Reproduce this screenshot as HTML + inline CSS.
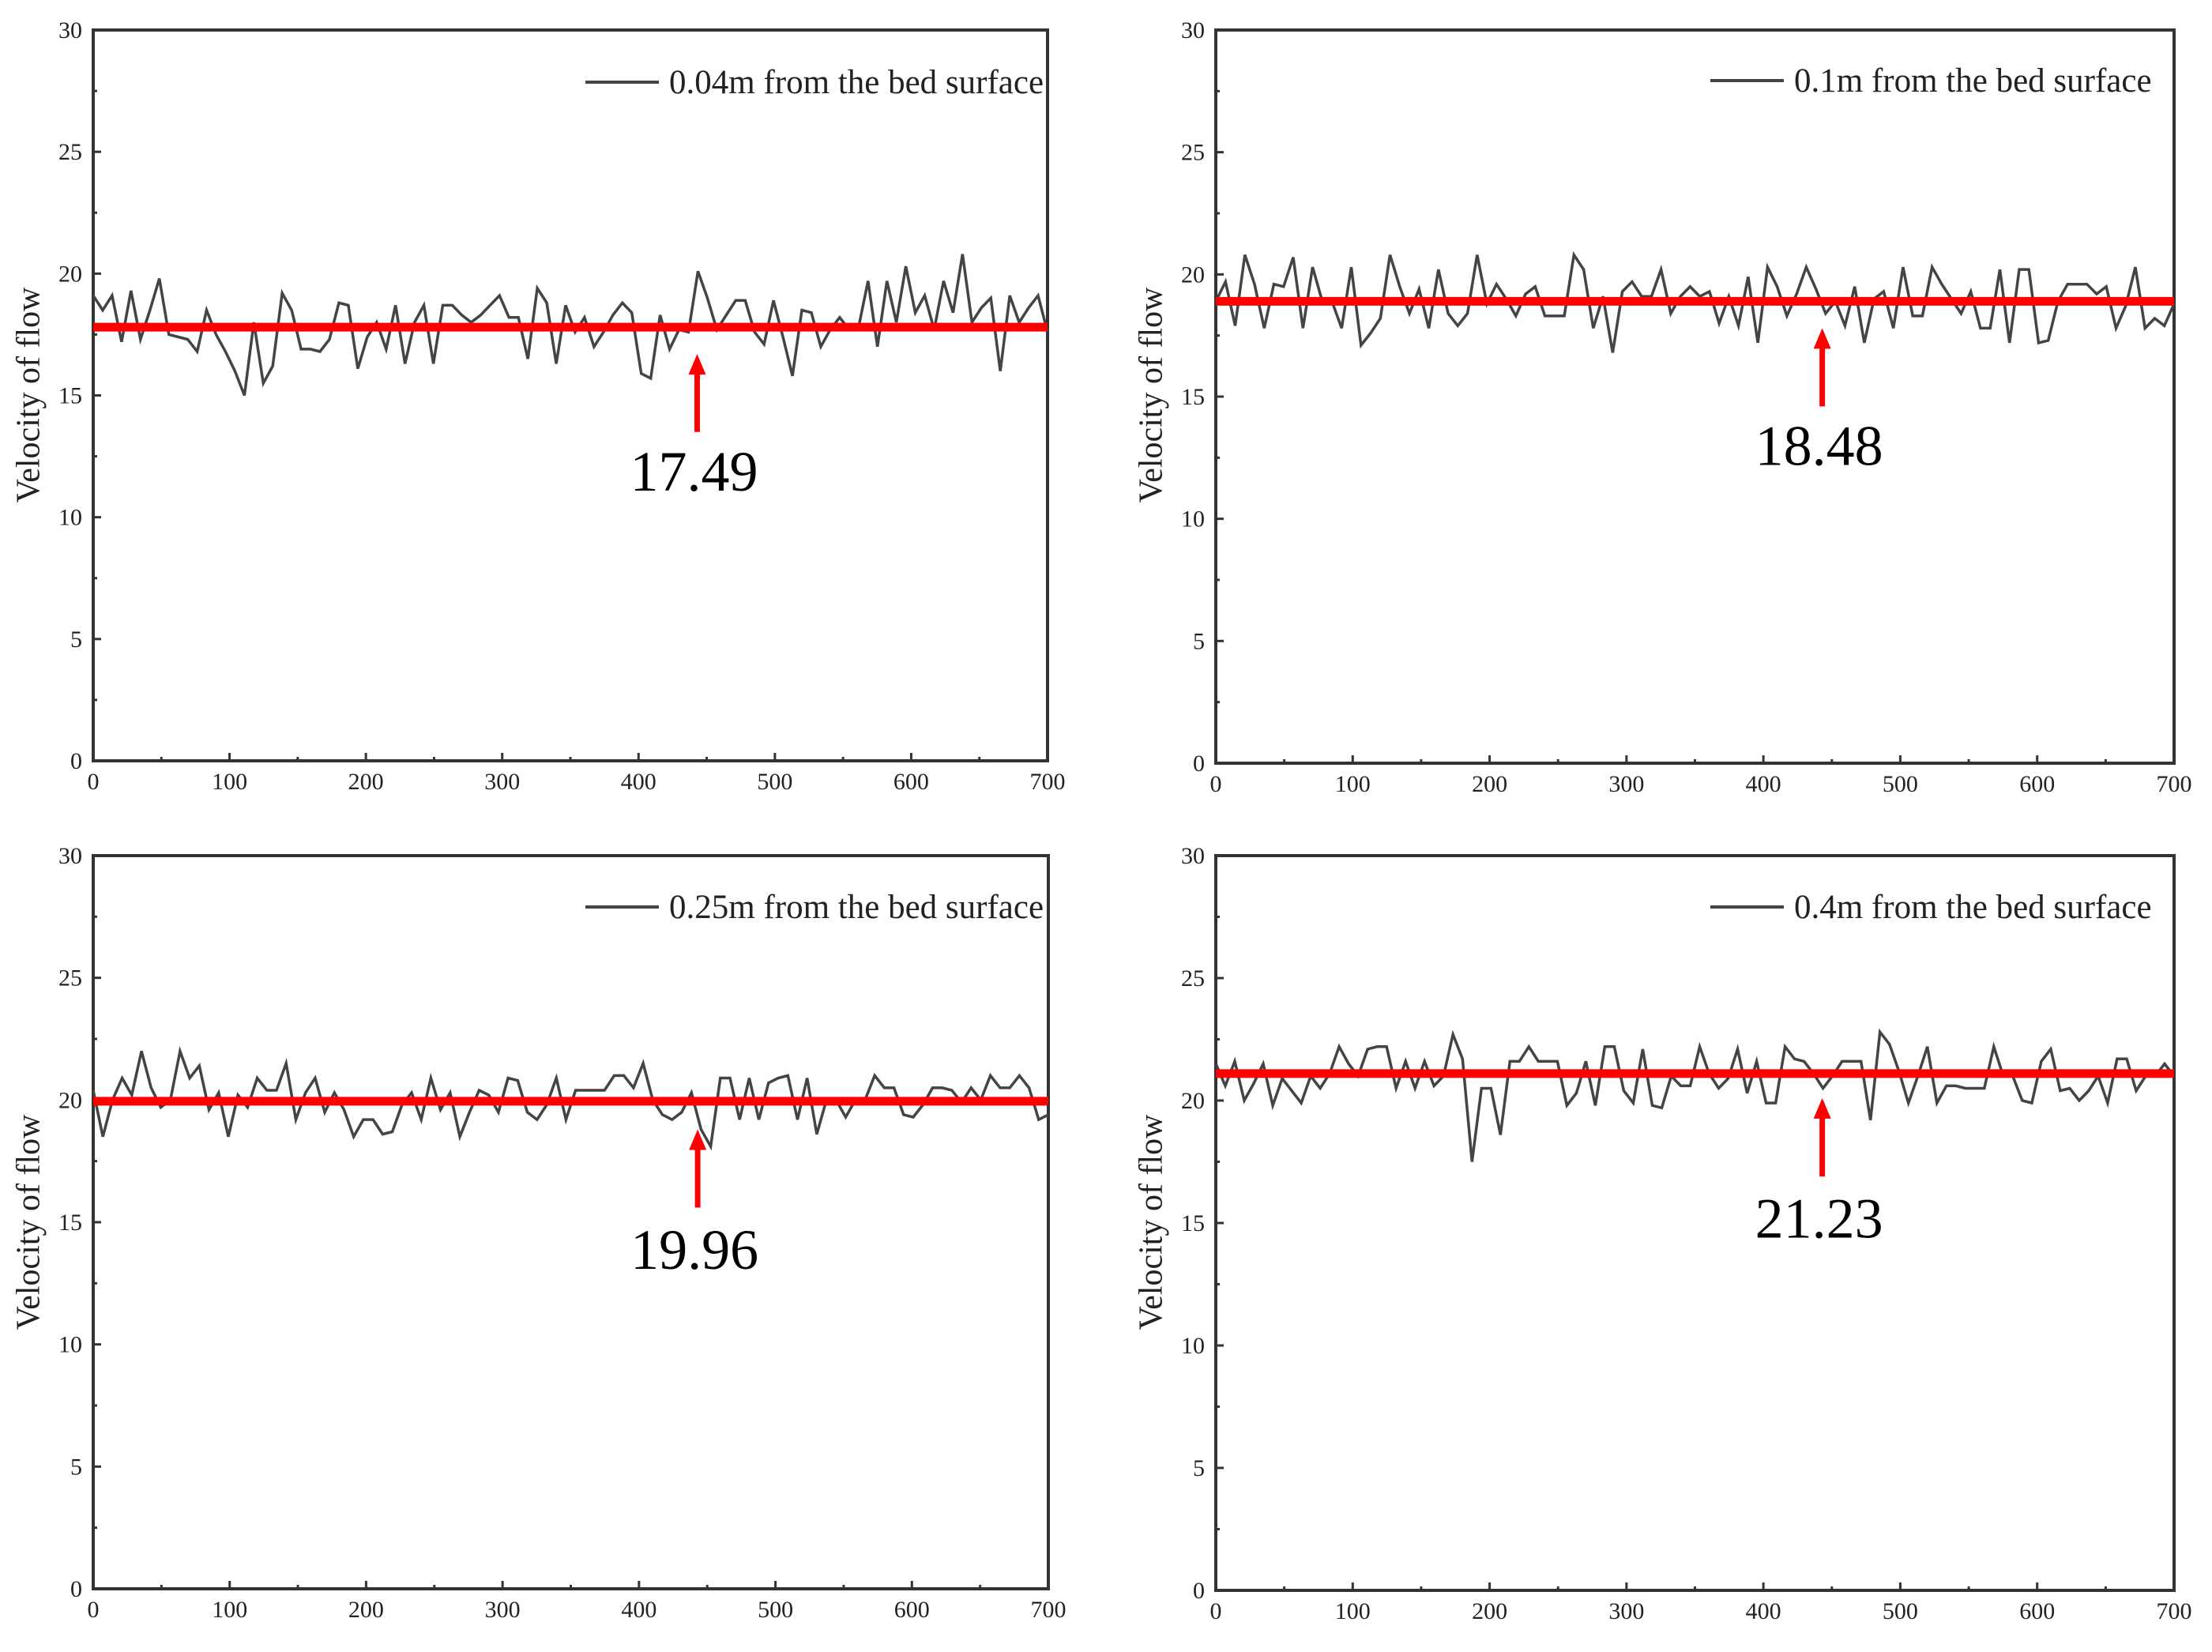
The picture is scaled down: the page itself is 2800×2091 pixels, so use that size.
<!DOCTYPE html>
<html><head><meta charset="utf-8"><style>
html,body{margin:0;padding:0;background:#fff;}
svg{display:block;font-family:"Liberation Serif",serif;}
</style></head><body>
<svg id="fig" width="2800" height="2091" viewBox="0 0 2800 2091"></svg>
<script>
const xTicks=[0,100,200,300,400,500,600,700];
const yTicks=[0,5,10,15,20,25,30];
const legendLabels=["0.04m from the bed surface","0.1m from the bed surface","0.25m from the bed surface","0.4m from the bed surface"];
const meanLabels=["17.49","18.48","19.96","21.23"];
const meanLines=[17.8,18.9,19.95,21.1];
const arrowX=[443,443,443,443];
const arrowTip=[16.7,17.8,18.8,20.1];
const arrowTail=[13.5,14.6,15.6,16.9];
const labelY=[11.1,12.2,13.1,14.4];
const seriesA=[19.1,18.5,19.1,17.2,19.3,17.3,18.5,19.8,17.5,17.4,17.3,16.8,18.5,17.5,16.8,16.0,15.0,18.0,15.5,16.2,19.2,18.5,16.9,16.9,16.8,17.3,18.8,18.7,16.1,17.4,18.0,16.9,18.7,16.3,18.0,18.7,16.3,18.7,18.7,18.3,18.0,18.3,18.7,19.1,18.2,18.2,16.5,19.4,18.8,16.3,18.7,17.6,18.2,17.0,17.6,18.3,18.8,18.4,15.9,15.7,18.3,16.9,17.7,17.6,20.1,19.0,17.7,18.3,18.9,18.9,17.6,17.1,18.9,17.4,15.8,18.5,18.4,17.0,17.7,18.2,17.7,17.8,19.7,17.0,19.7,18.0,20.3,18.4,19.1,17.7,19.7,18.4,20.8,18.0,18.6,19.0,16.0,19.1,18.0,18.6,19.1,17.6];
const seriesB=[18.9,19.7,17.9,20.8,19.6,17.8,19.6,19.5,20.7,17.8,20.3,18.9,18.9,17.8,20.3,17.1,17.6,18.2,20.8,19.5,18.4,19.4,17.8,20.2,18.4,17.9,18.4,20.8,18.8,19.6,19.0,18.3,19.2,19.5,18.3,18.3,18.3,20.8,20.2,17.8,19.1,16.8,19.3,19.7,19.1,19.1,20.2,18.4,19.1,19.5,19.1,19.3,18.0,19.1,17.9,19.9,17.2,20.3,19.5,18.3,19.2,20.3,19.4,18.4,18.9,17.9,19.5,17.2,19.0,19.3,17.8,20.3,18.3,18.3,20.3,19.6,19.0,18.4,19.3,17.8,17.8,20.2,17.2,20.2,20.2,17.2,17.3,18.9,19.6,19.6,19.6,19.2,19.5,17.8,18.7,20.3,17.8,18.2,17.9,18.8];
const seriesC=[20.4,18.5,20.0,20.9,20.2,22.0,20.5,19.7,20.0,22.0,20.9,21.4,19.6,20.3,18.5,20.2,19.7,20.9,20.4,20.4,21.5,19.2,20.3,20.9,19.5,20.3,19.6,18.5,19.2,19.2,18.6,18.7,19.8,20.3,19.2,20.9,19.6,20.3,18.5,19.5,20.4,20.2,19.5,20.9,20.8,19.5,19.2,19.8,20.9,19.2,20.4,20.4,20.4,20.4,21.0,21.0,20.5,21.5,20.0,19.4,19.2,19.5,20.3,18.8,18.1,20.9,20.9,19.2,20.9,19.2,20.7,20.9,21.0,19.2,20.9,18.6,20.0,20.0,19.3,20.0,20.0,21.0,20.5,20.5,19.4,19.3,19.8,20.5,20.5,20.4,19.9,20.5,20.0,21.0,20.5,20.5,21.0,20.5,19.2,19.4];
const seriesD=[21.5,20.6,21.6,20.0,20.7,21.5,19.8,20.9,20.4,19.9,21.0,20.5,21.1,22.2,21.5,21.0,22.1,22.2,22.2,20.5,21.6,20.5,21.6,20.6,21.0,22.7,21.7,17.5,20.5,20.5,18.6,21.6,21.6,22.2,21.6,21.6,21.6,19.8,20.3,21.6,19.8,22.2,22.2,20.4,19.9,22.1,19.8,19.7,21.0,20.6,20.6,22.2,21.1,20.5,20.9,22.1,20.3,21.6,19.9,19.9,22.2,21.7,21.6,21.1,20.5,21.0,21.6,21.6,21.6,19.2,22.8,22.3,21.2,19.9,21.0,22.2,19.9,20.6,20.6,20.5,20.5,20.5,22.2,21.0,21.0,20.0,19.9,21.6,22.1,20.4,20.5,20.0,20.4,21.0,19.9,21.7,21.7,20.4,21.0,21.0,21.5,21.0];
const allSeries=[seriesA,seriesB,seriesC,seriesD];

const panels=[
 {l:118,r:1326,t:38,b:963,leg:741,ly:104,tx:40,ty:500},
 {l:1539,r:2752,t:38,b:966,leg:2165,ly:102,tx:1461,ty:500},
 {l:118,r:1327,t:1083,b:2011,leg:741,ly:1148,tx:40,ty:1547},
 {l:1539,r:2752,t:1083,b:2013,leg:2165,ly:1148,tx:1461,ty:1547}
];
const NS="http://www.w3.org/2000/svg";
const svg=document.getElementById('fig');
function mk(tag,attrs,parent){const e=document.createElementNS(NS,tag);for(const k in attrs)e.setAttribute(k,attrs[k]);(parent||svg).appendChild(e);return e;}

panels.forEach((p,i)=>{
 const g=mk('g',{});
 
 
 const xs=v=>p.l+(v/700)*(p.r-p.l);
 const ys=v=>p.b-(v/30)*(p.b-p.t);
 const fr=mk('rect',{x:p.l,y:p.t,width:p.r-p.l,height:p.b-p.t,fill:'none',stroke:'#333',"stroke-width":4},g);
 
 
 xTicks.forEach(v=>{
  mk('line',{x1:xs(v),x2:xs(v),y1:p.b,y2:p.b-10,stroke:'#333',"stroke-width":3},g);
  if(v<700) mk('line',{x1:xs(v+50),x2:xs(v+50),y1:p.b,y2:p.b-5,stroke:'#333',"stroke-width":3},g);
  const t=mk('text',{x:xs(v),y:p.b+36,"text-anchor":"middle","font-size":30,fill:'#222'},g);
  t.textContent=v;
  
  
 });
 yTicks.forEach(v=>{
  mk('line',{x1:p.l,x2:p.l+10,y1:ys(v),y2:ys(v),stroke:'#333',"stroke-width":3},g);
  if(v<30) mk('line',{x1:p.l,x2:p.l+5,y1:ys(v+2.5),y2:ys(v+2.5),stroke:'#333',"stroke-width":3},g);
  const t=mk('text',{x:p.l-14,y:ys(v)+10,"text-anchor":"end","font-size":30,fill:'#222'},g);
  t.textContent=v;
  
  
 });
 const yt=mk('text',{x:p.tx,y:p.ty,"text-anchor":"middle","font-size":42,fill:'#222',transform:`rotate(-90 ${p.tx} ${p.ty})`,"dominant-baseline":"middle"},g);
 yt.textContent='Velocity of flow';
 
 
 const s=allSeries[i];
 const pts=s.map((v,k)=>xs(k*700/(s.length-1)).toFixed(1)+','+ys(v).toFixed(1)).join(' ');
 const pl=mk('polyline',{points:pts,fill:'none',stroke:'#444',"stroke-width":3.5,"stroke-linejoin":"miter"},g);
 
 
 const ml=mk('line',{x1:p.l,x2:p.r,y1:ys(meanLines[i]),y2:ys(meanLines[i]),stroke:'#ff0000',"stroke-width":11},g);
 
 
 const ax=xs(arrowX[i]);
 const ar=mk('line',{x1:ax,x2:ax,y1:ys(arrowTail[i]),y2:ys(arrowTip[i])+22,stroke:'#ff0000',"stroke-width":7},g);
 
 
 const ah=mk('polygon',{points:`${ax},${ys(arrowTip[i])} ${ax-11},${ys(arrowTip[i])+26} ${ax+11},${ys(arrowTip[i])+26}`,fill:'#ff0000'},g);
 
 
 const ml2=mk('text',{x:ax-4,y:ys(labelY[i]),"text-anchor":"middle","font-size":72,fill:'#000'},g);
 ml2.textContent=meanLabels[i];
 
 
 const lg=mk('g',{},g);
 
 
 mk('line',{x1:p.leg,x2:p.leg+93,y1:p.ly,y2:p.ly,stroke:'#444',"stroke-width":4},lg);
 const lt=mk('text',{x:p.leg+106,y:p.ly+14,"font-size":43,fill:'#222'},lg);
 lt.textContent=legendLabels[i];
});
</script>
</body></html>
